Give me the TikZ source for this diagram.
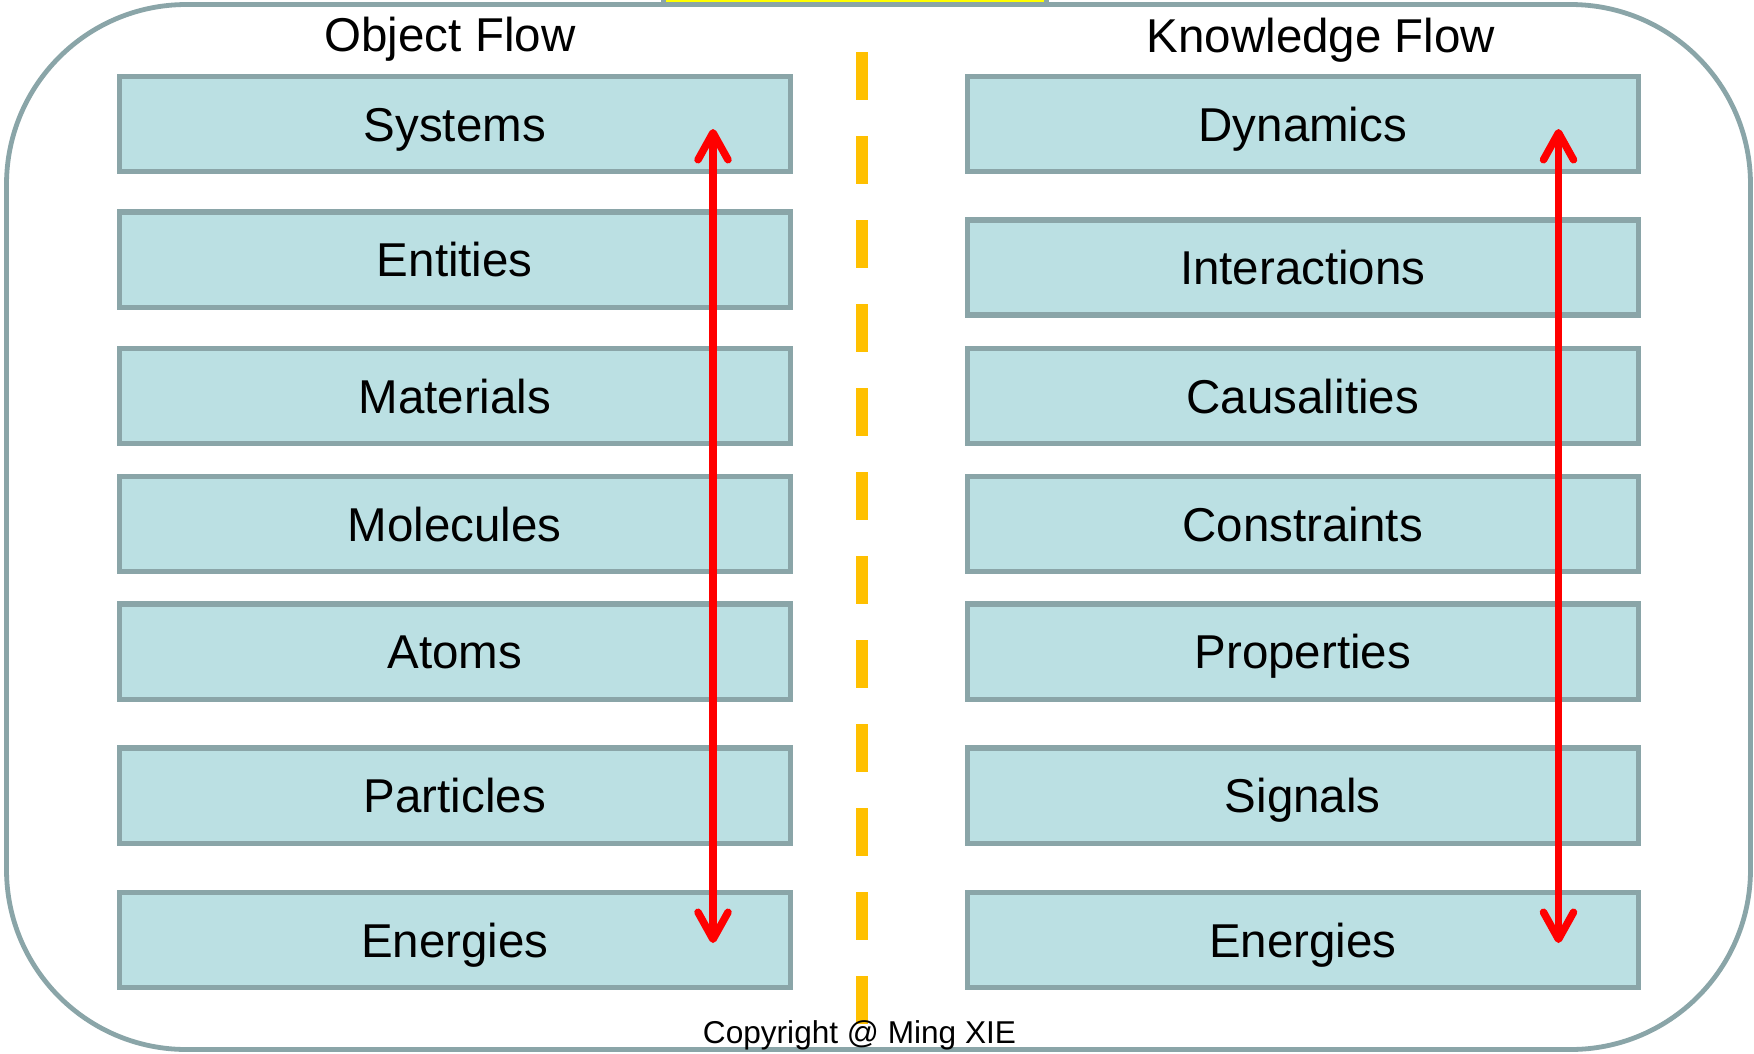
\documentclass[tikz,border=0pt]{standalone}
\usepackage{fontspec}
\setmainfont{Liberation Sans}
\usetikzlibrary{arrows.meta}
\definecolor{boxfill}{HTML}{BBE0E3}
\definecolor{boxline}{HTML}{8AA5A8}
\definecolor{dashcol}{HTML}{FFC000}
\definecolor{barfill}{HTML}{FFFF00}
\begin{document}
\begin{tikzpicture}[x=1pt,y=-1pt,
  item/.style={draw=boxline, fill=boxfill, line width=5.5pt, minimum width=671pt,
    minimum height=95.4pt, inner sep=0pt, text height=34pt, text depth=0pt,
    font=\fontsize{47.5}{57}\selectfont},
  title/.style={anchor=base, inner sep=0pt, font=\fontsize{47.5}{57}\selectfont},
  flow/.style={draw=red, line width=7.5pt, {Straight Barb[length=27pt,width=30pt,round]}-{Straight Barb[length=27pt,width=30pt,round]}},
  sep/.style={draw=dashcol, line width=12pt, dash pattern=on 48pt off 36pt}]
\useasboundingbox (0,0) rectangle (1754,1053);
% outer frame
\draw[boxline, fill=white, line width=4.8pt, rounded corners=180pt] (6.5,4.5) rectangle (1750.5,1049.5);
\draw[boxline, fill=barfill, line width=5pt] (663.5,-20) rectangle (1046.5,4.6);
% titles
\node[title] (tobj) at (450,51) {Object Flow};
\node[title] (tknow) at (1321,52) {Knowledge Flow};
% separator
\coordinate (s1) at (862,52);
\coordinate (s2) at (862,1024);
\draw[sep] (s1) -- (s2);
% left column
\node[item] (l1) at (454.8,124) {Systems};
\node[item] (l2) at (454.8,259.7) {Entities};
\node[item] (l3) at (454.8,396) {Materials};
\node[item] (l4) at (454.8,524) {Molecules};
\node[item] (l5) at (454.8,651.7) {Atoms};
\node[item] (l6) at (454.8,795.9) {Particles};
\node[item] (l7) at (454.8,940) {Energies};
% right column
\node[item] (r1) at (1302.8,124) {Dynamics};
\node[item] (r2) at (1302.8,267.5) {Interactions};
\node[item] (r3) at (1302.8,396) {Causalities};
\node[item] (r4) at (1302.8,524) {Constraints};
\node[item] (r5) at (1302.8,651.7) {Properties};
\node[item] (r6) at (1302.8,795.9) {Signals};
\node[item] (r7) at (1302.8,940) {Energies};
% arrows
\coordinate (la1) at (713,129);
\coordinate (la2) at (713,943);
\coordinate (ra1) at (1558.5,129);
\coordinate (ra2) at (1558.5,943);
\draw[flow] (la1) -- (la2);
\draw[flow] (ra1) -- (ra2);
% copyright
\node[anchor=base, inner sep=0pt, font=\fontsize{31.6}{38}\selectfont] (copy) at (859.5,1043) {Copyright @ Ming XIE};
\end{tikzpicture}
\end{document}
